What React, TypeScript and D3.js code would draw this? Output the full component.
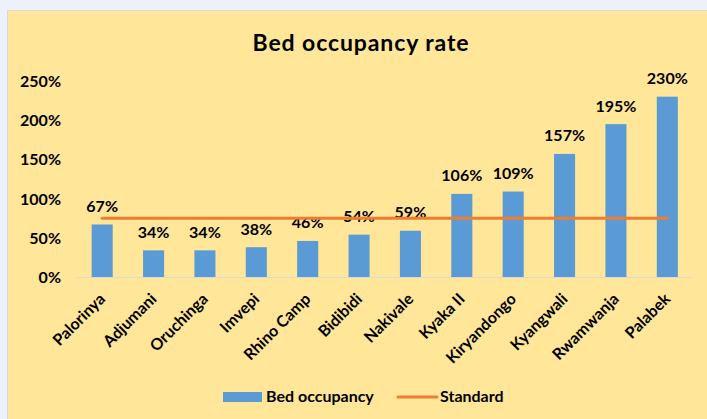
import React from "react";
import * as d3 from "d3";

const categories = ["Palorinya", "Adjumani", "Oruchinga", "Imvepi", "Rhino Camp", "Bidibidi", "Nakivale", "Kyaka II", "Kiryandongo", "Kyangwali", "Rwamwanja", "Palabek"];
const occupancy = [67, 34, 34, 38, 46, 54, 59, 106, 109, 157, 195, 230];
const standard = [75, 75, 75, 75, 75, 75, 75, 75, 75, 75, 75, 75];
const yTicks = [0, 50, 100, 150, 200, 250];

const W = 707, H = 419;
const FONT = "Lato, 'Open Sans', sans-serif";

export default function App() {
  const x = d3.scaleBand<string>().domain(categories).range([76.5, 693]).paddingInner(0.59).paddingOuter(0.295);
  const y = d3.scaleLinear().domain([0, 250]).range([277, 81]);
  const cx = (c: string) => (x(c) as number) + x.bandwidth() / 2;
  const line = d3.line<number>().x((_, i) => cx(categories[i])).y((d) => y(d));

  return (
    <svg width={W} height={H} style={{ position: "absolute", left: 0, top: 0 }} fontFamily={FONT}>
      <rect x={0} y={0} width={W} height={H} fill="#EDF1FA" />
      <rect x={7.5} y={10.5} width={W} height={H} fill="#FFE699" stroke="#D9D9D9" />
      <text x={361} y={51} textAnchor="middle" fontSize={23} fontWeight="bold" letterSpacing={0.9} fill="#000">Bed occupancy rate</text>
      {yTicks.map((t) => (
        <text key={t} x={61} y={y(t) + 6} textAnchor="end" fontSize={16} fontWeight="bold" fill="#000">{t}%</text>
      ))}
      <line x1={76.5} x2={693} y1={y(0) + 0.5} y2={y(0) + 0.5} stroke="#D9D9D9" />
      {categories.map((c, i) => (
        <g key={c}>
          <rect x={x(c)} y={y(occupancy[i])} width={x.bandwidth()} height={y(0) - y(occupancy[i])} fill="#5B9BD5" />
          <text x={cx(c)} y={y(occupancy[i]) - 12.5} textAnchor="middle" fontSize={16} fontWeight="bold" fill="#000">{occupancy[i]}%</text>
          <text transform={`translate(${cx(c) + 4},${y(0) + 23}) rotate(-45)`} textAnchor="end" fontSize={16} fontWeight="bold" fill="#000">{c}</text>
        </g>
      ))}
      <path d={line(standard) || ""} fill="none" stroke="#ED7D31" strokeWidth={3} strokeLinecap="round" />
      <rect x={223} y={392} width={39} height={10} fill="#5B9BD5" />
      <text x={266} y={402} fontSize={16} fontWeight="bold" fill="#000">Bed occupancy</text>
      <line x1={398} x2={437} y1={397} y2={397} stroke="#ED7D31" strokeWidth={3} strokeLinecap="round" />
      <text x={440} y={402} fontSize={16} fontWeight="bold" fill="#000">Standard</text>
    </svg>
  );
}
